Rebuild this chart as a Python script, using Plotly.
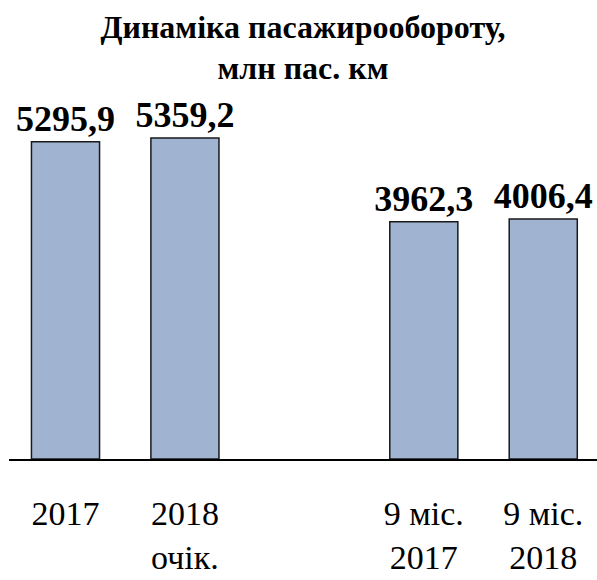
import plotly.graph_objects as go

categories = ["2017", "2018<br>очік.", " ", "9 міс.<br>2017", "9 міс.<br>2018"]
values = [5295.9, 5359.2, None, 3962.3, 4006.4]
title_text = "Динаміка пасажирообороту,<br>млн пас. км"

SERIF = "Times New Roman, Liberation Serif, serif"

fig = go.Figure(
    go.Bar(
        x=categories,
        y=values,
        marker=dict(color="#A0B3D1", line=dict(color="#1a1a1a", width=1.5)),
        texttemplate="<b>%{y:.1f}</b>",
        textposition="outside",
        constraintext="none",
        textfont=dict(family=SERIF, size=36, color="black"),
        cliponaxis=False,
        width=0.57,
    )
)

fig.update_layout(
    width=597,
    height=580,
    separators=", ",
    paper_bgcolor="white",
    plot_bgcolor="white",
    margin=dict(l=9, r=0, t=100, b=121, autoexpand=False),
    showlegend=False,
    title=dict(
        text="<b>" + title_text + "</b>",
        font=dict(family=SERIF, size=32, color="black"),
        x=0.5,
        xref="paper",
        xanchor="center",
        y=0.935,
        yanchor="top",
    ),
    xaxis=dict(
        type="category",
        categoryorder="array",
        categoryarray=categories,
        range=[-0.473, 4.45],
        automargin=False,
        showline=True,
        linecolor="black",
        linewidth=2,
        showgrid=False,
        ticks="",
        ticklabelstandoff=23,
        tickfont=dict(family=SERIF, size=34, color="black"),
    ),
    yaxis=dict(
        range=[0, 5994],
        visible=False,
        showgrid=False,
        zeroline=False,
    ),
)

fig.write_html(
    "out.html",
    config={"displayModeBar": False},
    post_script="document.body.style.margin='0';",
)
